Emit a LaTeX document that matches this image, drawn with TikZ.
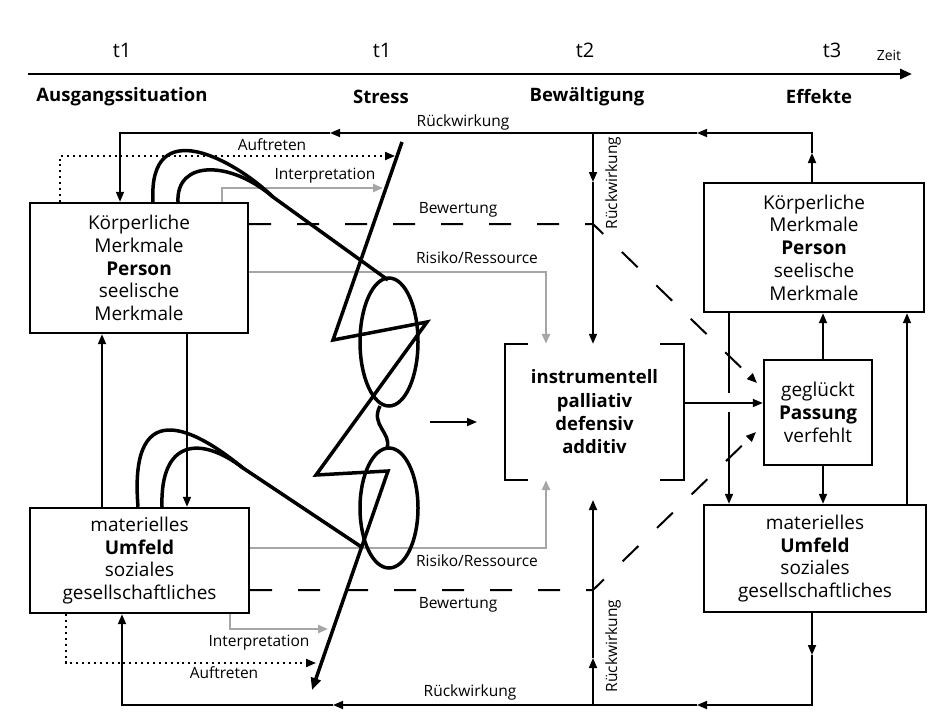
\documentclass[tikz,border=0pt]{standalone}
\usepackage{fontspec}
\setmainfont{Open Sans}
\usetikzlibrary{arrows.meta}
\begin{document}
\begin{tikzpicture}[x=1pt,y=-1pt,
  box/.style={draw,line width=2.4pt,align=center,font=\fontsize{19}{22.75}\selectfont,inner sep=0pt},
  conn/.style={line width=1.7pt},
  tip/.style={-{Triangle[length=10pt,width=8pt]}},
  graycon/.style={line width=2.4pt,draw=gray!70},
  dashl/.style={line width=2pt,dash pattern=on 22pt off 26pt},
  dotl/.style={line width=2pt,dash pattern=on 2pt off 3.9pt},
  boldl/.style={line width=3.5pt,line join=miter},
  lab/.style={font=\fontsize{15.5}{17}\selectfont,inner sep=0pt},
  head/.style={font=\bfseries\fontsize{18.5}{20}\selectfont,inner sep=0pt},
  tlab/.style={font=\fontsize{20}{22}\selectfont,inner sep=0pt}
]
\useasboundingbox (0,0) rectangle (928,720);
\fill[white] (0,0) rectangle (928,720);

% timeline
\coordinate (tl0) at (28,74);
\coordinate (tl1) at (912,74);
\draw[line width=2.8pt,-{Triangle[length=12pt,width=10pt]}] (tl0) -- (tl1);
\node[tlab] (ta) at (122,50) {t1};
\node[tlab] (tb) at (382,50) {t1};
\node[tlab] (tc) at (585,50) {t2};
\node[tlab] (td) at (832,50) {t3};
\node[font=\fontsize{14}{16}\selectfont,inner sep=0pt] (zeit) at (889,55) {Zeit};
\node[head] (h1) at (122,97) {Ausgangssituation};
\node[head] (h2) at (381,97) {Stress};
\node[head] (h3) at (587,97) {Bewältigung};
\node[head] (h4) at (819,97) {Effekte};

% boxes
\node[box,minimum width=218pt,minimum height=130pt] (pl) at (139,268)
  {Körperliche\\Merkmale\\\textbf{Person}\\seelische\\Merkmale};
\node[box,minimum width=219pt,minimum height=105pt] (ul) at (139.5,560.5)
  {materielles\\\textbf{Umfeld}\\soziales\\gesellschaftliches};
\node[box,minimum width=220pt,minimum height=129pt] (pr) at (814,247.5)
  {Körperliche\\Merkmale\\\textbf{Person}\\seelische\\Merkmale};
\node[box,minimum width=222pt,minimum height=107pt] (ur) at (815,558.5)
  {materielles\\\textbf{Umfeld}\\soziales\\gesellschaftliches};
\node[box,minimum width=108pt,minimum height=105pt] (pas) at (818,412.5)
  {geglückt\\\textbf{Passung}\\verfehlt};
\node[align=center,font=\bfseries\fontsize{18.5}{23.3}\selectfont,inner sep=0pt,
      minimum width=179pt,minimum height=136pt] (br) at (594.5,412)
  {instrumentell\\palliativ\\defensiv\\additiv};
\draw[line width=2.4pt] ([xshift=23pt]br.north west) -- (br.north west) -- (br.south west) -- ([xshift=23pt]br.south west);
\draw[line width=2.4pt] ([xshift=-24pt]br.north east) -- (br.north east) -- (br.south east) -- ([xshift=-24pt]br.south east);

% x helper coordinates
\coordinate (x60) at (60,0);
\coordinate (x66) at (66,0);
\coordinate (x102) at (102,0);
\coordinate (x120) at (120,0);
\coordinate (x122) at (122,0);
\coordinate (x138) at (138,0);
\coordinate (x153) at (153,0);
\coordinate (x162) at (162,0);
\coordinate (x178) at (178,0);
\coordinate (x187) at (187,0);
\coordinate (x222) at (222,0);
\coordinate (x230) at (230,0);
\coordinate (x546) at (546,0);
\coordinate (x729) at (729,0);
\coordinate (x812) at (812,0);
\coordinate (x823) at (823,0);
\coordinate (x907) at (907,0);
\coordinate (y224) at (0,224);
\coordinate (y272) at (0,272);
\coordinate (y548) at (0,548);
\coordinate (y590) at (0,590);

% top Rueckwirkung loop
\coordinate (rt1) at (812,153);
\coordinate (rt2) at (812,133);
\coordinate (rt3) at (697,133);
\coordinate (rt4) at (330,133);
\coordinate (rt5) at (120,133);
\coordinate (rv0) at (593,133);
\coordinate (rv1) at (593,182);
\draw[conn,tip] (pr.north -| x812) -- (rt1);
\draw[conn,tip] (rt1) -- (rt2) -- (rt3);
\draw[conn,tip] (rt3) -- (rt4);
\draw[conn,tip] (rt4) -- (rt5) -- (pl.north -| x120);
\draw[conn,tip] (rv0) -- (rv1);
\draw[conn,tip] (rv1) -- (br.north -| rv1);
\node[lab] (lrt) at (463,122) {Rückwirkung};
\node[lab,rotate=90] (lrv) at (613,183) {Rückwirkung};

% bottom Rueckwirkung loop
\coordinate (rb1) at (812,655);
\coordinate (rb2) at (812,705);
\coordinate (rb3) at (697,705);
\coordinate (rb4) at (333,705);
\coordinate (rb5) at (122,705);
\coordinate (rw0) at (593,705);
\coordinate (rw1) at (593,658);
\coordinate (rw2) at (593,500);
\draw[conn,tip] (ur.south -| x812) -- (rb1);
\draw[conn,tip] (rb1) -- (rb2) -- (rb3);
\draw[conn,tip] (rb3) -- (rb4);
\draw[conn,tip] (rb4) -- (rb5) -- (ul.south -| x122);
\draw[conn,tip] (rw0) -- (rw1);
\draw[conn,tip] (rw1) -- (rw2);
\node[lab] (lrb) at (470,692) {Rückwirkung};
\node[lab,rotate=90] (lrw) at (613,646) {Rückwirkung};

% left vertical arrows
\draw[conn,tip] (ul.north -| x102) -- (pl.south -| x102);
\draw[conn,tip] (pl.south -| x187) -- (ul.north -| x187);

% right arrows
\draw[conn,tip] (pas.north -| x823) -- (pr.south -| x823);
\draw[conn,tip] (pas.south -| x823) -- (ur.north -| x823);
\coordinate (g1) at (729,393);
\coordinate (g2) at (729,412);
\draw[conn] (pr.south -| x729) -- (g1);
\draw[conn,tip] (g2) -- (ur.north -| x729);
\draw[conn,tip] (ur.north -| x907) -- (pr.south -| x907);
\coordinate (bro) at (684,403);
\draw[conn,tip] (bro) -- (pas.west |- bro);
\coordinate (in0) at (430,422);
\coordinate (in1) at (477,422);
\draw[conn,tip] (in0) -- (in1);

% Bewertung dashed
\coordinate (bw1) at (593,224);
\coordinate (bw2) at (757,383);
\draw[dashl,tip] (pl.east |- y224) -- (bw1) -- (bw2);
\coordinate (bw3) at (593,590);
\coordinate (bw4) at (756,432);
\draw[dashl,tip] (ul.east |- y590) -- (bw3) -- (bw4);
\node[lab] (lbw1) at (458,210) {Bewertung};
\node[lab] (lbw2) at (458,605) {Bewertung};

% Risiko/Ressource gray
\coordinate (rr1) at (546,272);
\draw[graycon,tip] (pl.east |- y272) -- (rr1) -- (br.north -| x546);
\coordinate (rr2) at (546,548);
\draw[graycon,tip] (ul.east |- y548) -- (rr2) -- (br.south -| x546);
\node[lab] (lrr1) at (477,258) {Risiko/Ressource};
\node[lab] (lrr2) at (477,561) {Risiko/Ressource};

% Interpretation gray
\coordinate (ip1) at (222,188);
\coordinate (ip2) at (383,188);
\draw[graycon,tip] (pl.north -| x222) -- (ip1) -- (ip2);
\coordinate (ip3) at (230,629);
\coordinate (ip4) at (328,629);
\draw[graycon,tip] (ul.south -| x230) -- (ip3) -- (ip4);
\node[lab] (lip1) at (325,176) {Interpretation};
\node[lab] (lip2) at (259,643) {Interpretation};

% Auftreten dotted
\coordinate (au1) at (60,156);
\coordinate (au2) at (395,156);
\draw[dotl,tip] (pl.north -| x60) -- (au1) -- (au2);
\coordinate (au3) at (66,663);
\coordinate (au4) at (316,663);
\draw[dotl,tip] (ul.south -| x66) -- (au3) -- (au4);
\node[lab] (lau1) at (272,145) {Auftreten};
\node[lab] (lau2) at (224,673) {Auftreten};

% stress figure
\coordinate (z1) at (402,142);
\coordinate (z2) at (333,340);
\coordinate (z3) at (427,322);
\coordinate (z4) at (316,475);
\coordinate (z5) at (388,471);
\coordinate (z6) at (312,690);
\draw[boldl,-{Triangle[length=12pt,width=10pt]}] (z1) -- (z2) -- (z3) -- (z4) -- (z5) -- (z6);
\draw[boldl] (389,342) ellipse [x radius=29, y radius=64];
\draw[boldl] (389,508) ellipse [x radius=29, y radius=60];
\draw[boldl] (380,406) .. controls (370,425) and (392,433) .. (387,448);
% loops from Person
\coordinate (lpm) at (273,197);
\coordinate (lpe) at (388,280);
\draw[boldl] (pl.north -| x153) .. controls (148,112) and (235,160) .. (lpm) -- (lpe);
\draw[boldl] (pl.north -| x178) .. controls (176,160) and (230,160) .. (lpm);
% loops from Umfeld
\coordinate (lum) at (243,468);
\coordinate (lue) at (363,548);
\draw[boldl] (ul.north -| x138) .. controls (128,385) and (205,437) .. (lum) -- (lue);
\draw[boldl] (ul.north -| x162) .. controls (160,440) and (200,435) .. (lum);
\end{tikzpicture}
\end{document}
